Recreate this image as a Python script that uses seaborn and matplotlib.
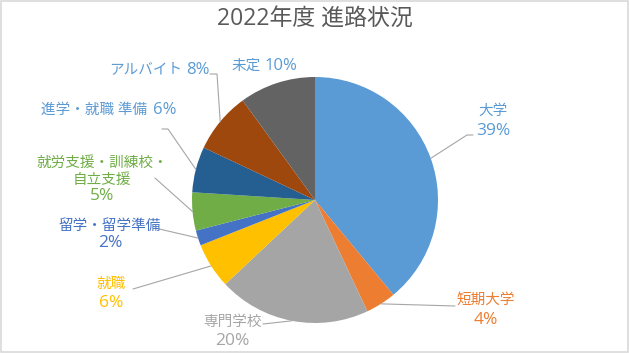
import numpy as np
import seaborn as sns
import matplotlib
matplotlib.use("Agg")
from matplotlib import pyplot as plt
from matplotlib.patches import Rectangle

# data
categories = ['大学', '短期大学', '専門学校', '就職', '留学・留学準備',
              '就労支援・訓練校・\n自立支援', '進学・就職 準備', 'アルバイト', '未定']
shares = [39, 4, 20, 6, 2, 5, 6, 8, 10]
slice_colors = ['#5B9BD5', '#ED7D31', '#A5A5A5', '#FFC000', '#4472C4',
                '#70AD47', '#255E91', '#9E480E', '#636363']
label_colors = ['#5B9BD5', '#ED7D31', '#A5A5A5', '#FFC000', '#4472C4',
                '#70AD47', '#5B9BD5', '#5B9BD5', '#5B9BD5']

sns.set_theme(style="white")
plt.rcParams['font.family'] = ['Open Sans', 'Noto Sans CJK JP', 'DejaVu Sans']

fig = plt.figure(figsize=(6.3, 3.53), dpi=100)
ax = fig.add_axes([0, 0, 1, 1])

cx, cy, r = 315, 200, 123
wedges, _ = ax.pie(shares, colors=sns.color_palette(slice_colors), startangle=-90,
                   counterclock=True, radius=r, center=(cx, cy),
                   wedgeprops=dict(linewidth=0))
ax.set_xlim(0, 630)
ax.set_ylim(353, 0)
ax.axis('off')

# label layout in pixels: name / percent anchors, leader line points
# 'row' labels sit on one line: name right-aligned, percent left-aligned
layout = [
    dict(name=(493, 111), pct=(493, 131), row=False, line=[(467, 135), (473, 135)]),
    dict(name=(486, 300), pct=(486, 320), row=False, line=[(455, 306)]),
    dict(name=(232, 322), pct=(232, 341), row=False, line=[(263, 324)]),
    dict(name=(111, 284), pct=(111, 303), row=False, line=[(133, 289)]),
    dict(name=(110, 226), pct=(110, 243), row=False, line=[(155, 228)]),
    dict(name=(102, 172), pct=(102, 196), row=False, line=[(155, 178)]),
    dict(name=(147, 110), pct=(153, 110), row=True, line=[(168, 129), (162, 129)]),
    dict(name=(182, 70), pct=(186, 70), row=True, line=[(217, 74), (210, 74)]),
    dict(name=(261, 66), pct=(265, 66), row=True, line=[]),
]

for w, name, val, col, lay in zip(wedges, categories, shares, label_colors, layout):
    mid = np.deg2rad((w.theta1 + w.theta2) / 2)
    ex, ey = cx + r * np.cos(mid), cy + r * np.sin(mid)
    if lay['row']:
        ax.text(*lay['name'], name, ha='right', va='center', color=col, fontsize=10.5)
        ax.text(*lay['pct'], f'{val}%', ha='left', va='center', color=col, fontsize=12)
    else:
        ax.text(*lay['name'], name, ha='center', va='center', color=col,
                fontsize=10.5, linespacing=1.15)
        ax.text(*lay['pct'], f'{val}%', ha='center', va='center', color=col,
                fontsize=12.5)
    if lay['line']:
        xs = [ex] + [p[0] for p in lay['line']]
        ys = [ey] + [p[1] for p in lay['line']]
        ax.plot(xs, ys, color='#A6A6A6', linewidth=0.8)

fig.text(0.5, 0.948, '2022年度 進路状況', ha='center', va='center',
         fontsize=16.5, color='#595959')
fig.patches.append(Rectangle((0.002, 0.003), 0.995, 0.993, transform=fig.transFigure,
                             fill=False, edgecolor='#D9D9D9', linewidth=1.2))

plt.savefig('out.png', dpi=100)
